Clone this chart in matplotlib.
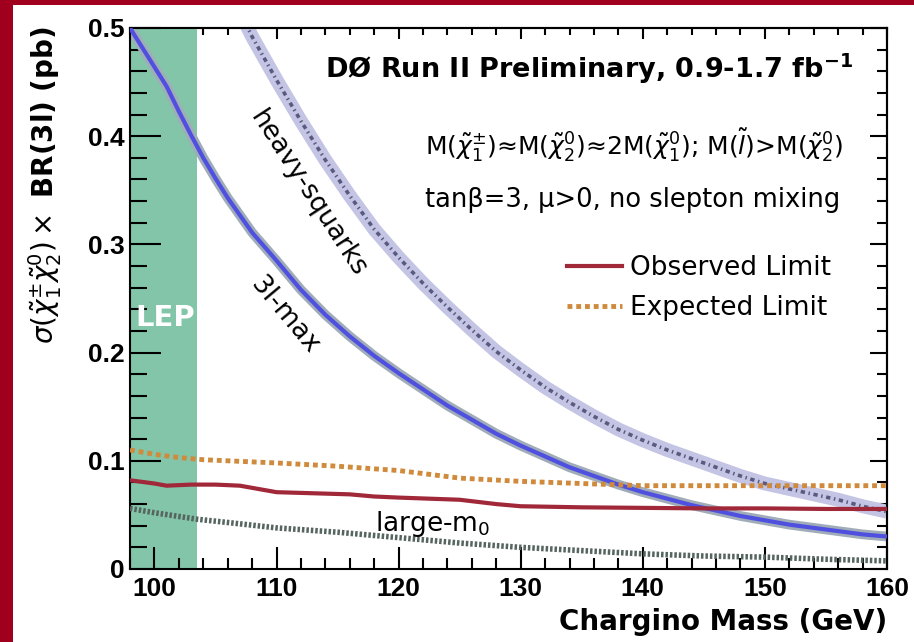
import matplotlib
matplotlib.use('Agg')
import matplotlib.pyplot as plt
from matplotlib.ticker import MultipleLocator, FuncFormatter
from matplotlib.patches import Rectangle

plt.rcParams['font.family'] = ['DejaVu Sans']
plt.rcParams['mathtext.fontset'] = 'dejavusans'

# ---------------- data ----------------
lep_range = [98.0, 103.5]

mass_3lmax = [98, 99, 100, 101, 102, 103, 104, 105, 106, 107, 108, 110, 112, 114, 116,
              118, 120, 122, 124, 126, 128, 130, 132, 134, 136, 138, 140, 142, 144, 146,
              148, 150, 152, 154, 156, 158, 160]
xsec_3lmax = [0.500, 0.482, 0.464, 0.446, 0.423, 0.401, 0.380, 0.361, 0.343, 0.327, 0.311,
              0.285, 0.258, 0.235, 0.215, 0.197, 0.181, 0.166, 0.151, 0.138, 0.125, 0.114,
              0.104, 0.094, 0.086, 0.078, 0.071, 0.065, 0.059, 0.054, 0.049, 0.045, 0.041,
              0.038, 0.035, 0.032, 0.030]

mass_heavysq = [107, 108, 110, 112, 114, 116, 118, 120, 122, 124, 126, 128, 130, 132, 134,
                136, 138, 140, 142, 144, 146, 148, 150, 152, 154, 156, 158, 160]
xsec_heavysq = [0.515, 0.492, 0.452, 0.414, 0.378, 0.345, 0.314, 0.288, 0.264, 0.242, 0.221,
                0.201, 0.184, 0.168, 0.154, 0.141, 0.129, 0.119, 0.110, 0.102, 0.094, 0.086,
                0.079, 0.074, 0.069, 0.064, 0.058, 0.053]

mass_largem0 = [98, 100, 103.5, 106, 110, 115, 120, 125, 130, 135, 140, 145, 150, 155, 160]
xsec_largem0 = [0.056, 0.052, 0.046, 0.043, 0.038, 0.034, 0.029, 0.024, 0.020, 0.017,
                0.014, 0.012, 0.011, 0.009, 0.0075]

mass_obs = [98, 100, 101, 103, 105, 107, 109, 110, 113, 116, 118, 120, 125, 128, 130, 135,
            140, 145, 150, 155, 160]
xsec_obs = [0.082, 0.079, 0.077, 0.078, 0.078, 0.077, 0.073, 0.071, 0.070, 0.069, 0.067,
            0.066, 0.064, 0.060, 0.058, 0.057, 0.0565, 0.056, 0.056, 0.0555, 0.0555]

mass_exp = [98, 100, 102, 104, 106, 110, 115, 120, 125, 130, 135, 140, 150, 160]
xsec_exp = [0.110, 0.106, 0.103, 0.101, 0.100, 0.098, 0.095, 0.091, 0.084, 0.081, 0.079,
            0.077, 0.077, 0.077]

legend_labels = ['Observed Limit', 'Expected Limit']

# ---------------- figure ----------------
W, H = 914, 642
fig = plt.figure(figsize=(W / 100, H / 100), dpi=100, facecolor='#a0001e')
fig.patches.append(Rectangle((13 / W, 0), 1, 1 - 5 / H, transform=fig.transFigure,
                             facecolor='white', edgecolor='none', zorder=-10))

ax = fig.add_axes([130 / W, 1 - 569 / H, (887 - 130) / W, (569 - 28) / H])
ax.set_facecolor('white')

ax.axvspan(lep_range[0], lep_range[1], color='#82c5a8', lw=0, zorder=1)

ax.plot(mass_heavysq, xsec_heavysq, color='#c4c4e4', lw=10, solid_capstyle='butt', zorder=2)
ax.plot(mass_heavysq, xsec_heavysq, color='#5a5a80', lw=2.6,
        ls=(0, (1.2, 1.0, 0.4, 1.0)), zorder=3)

ax.plot(mass_3lmax, xsec_3lmax, color='#a0acb8', lw=7, solid_capstyle='butt', zorder=2)
ax.plot(mass_3lmax, xsec_3lmax, color='#5050e0', lw=3, zorder=3)

ax.plot(mass_largem0, xsec_largem0, color='#56655f', lw=4, ls=(0, (0.45, 0.35)), zorder=3)

exp_line, = ax.plot(mass_exp, xsec_exp, color='#d08a3c', lw=3.5, ls=(0, (1, 0.8)), zorder=4)
obs_line, = ax.plot(mass_obs, xsec_obs, color='#a02838', lw=3, zorder=5)

ax.set_xlim(98, 160)
ax.set_ylim(0, 0.5)
ax.xaxis.set_major_locator(MultipleLocator(10))
ax.xaxis.set_minor_locator(MultipleLocator(2))
ax.yaxis.set_major_locator(MultipleLocator(0.1))
ax.yaxis.set_minor_locator(MultipleLocator(0.02))
ax.yaxis.set_major_formatter(FuncFormatter(lambda v, p: '0' if abs(v) < 1e-9 else f'{v:.1f}'))
ax.xaxis.set_major_formatter(FuncFormatter(lambda v, p: f'{v:.0f}'))

ax.tick_params(axis='y', which='major', direction='in', length=22, width=1.5, pad=4)
ax.tick_params(axis='y', which='minor', direction='in', length=12, width=1.5)
ax.tick_params(axis='x', which='major', direction='in', length=16, width=1.5, pad=6)
ax.tick_params(axis='x', which='minor', direction='in', length=8, width=1.5)
for lab in ax.get_xticklabels() + ax.get_yticklabels():
    lab.set_fontfamily('Liberation Sans')
    lab.set_fontweight('bold')
    lab.set_fontsize(19)
for s in ax.spines.values():
    s.set_linewidth(1.5)

secy = ax.secondary_yaxis('right')
secy.yaxis.set_major_locator(MultipleLocator(0.1))
secy.yaxis.set_minor_locator(MultipleLocator(0.02))
secy.tick_params(which='major', direction='in', length=12, width=1.5, labelright=False)
secy.tick_params(which='minor', direction='in', length=7, width=1.5)
secy.spines['right'].set_linewidth(1.5)

secx = ax.secondary_xaxis('top')
secx.xaxis.set_major_locator(MultipleLocator(10))
secx.xaxis.set_minor_locator(MultipleLocator(2))
secx.tick_params(which='major', direction='in', length=8, width=1.5, labeltop=False)
secx.tick_params(which='minor', direction='in', length=5, width=1.5)
secx.spines['top'].set_linewidth(1.5)


def ftxt(px, py, s, **kw):
    return fig.text(px / W, 1 - py / H, s, **kw)


ftxt(853, 78, r'DØ Run II Preliminary, 0.9-1.7 fb$^{\mathbf{-1}}$', ha='right', va='baseline',
     fontsize=19.5, fontweight='bold')
ftxt(843, 155, r'M($\tilde{\chi}^{\pm}_{1}$)≈M($\tilde{\chi}^{0}_{2}$)≈2M($\tilde{\chi}^{0}_{1}$); '
     r'M($\tilde{l}$)>M($\tilde{\chi}^{0}_{2}$)', ha='right', va='baseline', fontsize=18)
ftxt(840, 207, 'tanβ=3, μ>0, no slepton mixing', ha='right', va='baseline', fontsize=18.5)

ftxt(165, 318, 'LEP', color='white', fontweight='bold', fontsize=21, ha='center', va='center')
ftxt(308, 194, 'heavy-squarks', rotation=-57, rotation_mode='anchor', ha='center', va='center',
     fontsize=19)
ftxt(285, 315, '3l-max', rotation=-50, rotation_mode='anchor', ha='center', va='center',
     fontsize=19)
ftxt(375, 531, r'large-m$_{0}$', ha='left', va='baseline', fontsize=19)

ftxt(45, 185, r'$\sigma(\tilde{\chi}^{\pm}_{1}\tilde{\chi}^{0}_{2})\times$ BR(3l) (pb)', rotation=90,
     ha='center', va='center', fontsize=20, fontweight='bold')
ftxt(887, 630, 'Chargino Mass (GeV)', ha='right', va='baseline', fontsize=20, fontweight='bold')

ax.legend([obs_line, exp_line], legend_labels, loc='upper left',
          bbox_to_anchor=(567 / W, 1 - 255 / H), bbox_transform=fig.transFigure,
          frameon=False, fontsize=19, handlelength=2.08, handletextpad=0.3,
          labelspacing=0.53, borderpad=0, borderaxespad=0)

fig.savefig('out.png', dpi=100, facecolor=fig.get_facecolor())
